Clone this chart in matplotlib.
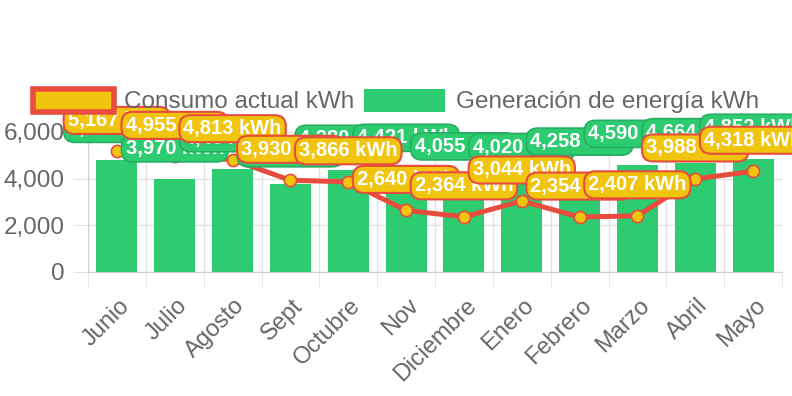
import matplotlib
matplotlib.use('Agg')
import matplotlib.pyplot as plt
import matplotlib.transforms as mtransforms
from matplotlib.patches import Patch
from matplotlib.ticker import FuncFormatter, FixedLocator

plt.rcParams['font.family'] = ['Liberation Sans', 'DejaVu Sans']

months = ['Junio', 'Julio', 'Agosto', 'Sept', 'Octubre', 'Nov', 'Diciembre',
          'Enero', 'Febrero', 'Marzo', 'Abril', 'Mayo']
consumo = [5167, 4955, 4813, 3930, 3866, 2640, 2364, 3044, 2354, 2407, 3988, 4318]
generacion = [4805, 3970, 4404, 3760, 4380, 4421, 4055, 4020, 4258, 4590, 4664, 4852]
y_ticks = [0, 2000, 4000, 6000]

RED = '#e74c3c'
YELLOW = '#f1c40f'
GREEN = '#2ecc71'
DGREEN = '#27ae60'
GRID = '#e3e3e3'
TXT = '#666666'

fig = plt.figure(figsize=(7.92, 3.96), dpi=100)
ax = fig.add_axes([88 / 792, 1 - 272 / 396, 694 / 792, 140 / 396])

x = list(range(len(months)))
ax.bar(x, generacion, width=0.71, color=GREEN, zorder=2)
ax.plot(x, consumo, color=RED, lw=3.6, marker='o', ms=8.8,
        mfc=YELLOW, mec=RED, mew=1.2, zorder=3, solid_capstyle='round')

ax.set_xlim(-0.5, len(months) - 0.5)
ax.set_ylim(0, 6000)
ax.set_yticks(y_ticks)
ax.yaxis.set_major_formatter(FuncFormatter(lambda v, p: f'{int(v):,}'))
ax.set_xticks(x)
ax.set_xticklabels(months)
ax.xaxis.set_minor_locator(FixedLocator([i - 0.5 for i in range(len(months) + 1)]))

ax.grid(axis='y', color=GRID, lw=1, zorder=0)
ax.grid(axis='x', which='minor', color=GRID, lw=1, zorder=0)
ax.tick_params(axis='y', length=11, color=GRID, labelsize=17.5, labelcolor=TXT, pad=6)
ax.tick_params(axis='x', which='major', length=0, labelsize=17, labelcolor=TXT, pad=22)
ax.tick_params(axis='x', which='minor', length=11, color=GRID)
for s in ['top', 'right']:
    ax.spines[s].set_visible(False)
for s in ['left', 'bottom']:
    ax.spines[s].set_color('#d0d0d0')

off = mtransforms.ScaledTranslation(9 / 100, 0, fig.dpi_scale_trans)
for lab in ax.get_xticklabels():
    lab.set_rotation(45)
    lab.set_ha('right')
    lab.set_va('center')
    lab.set_rotation_mode('anchor')
    lab.set_transform(lab.get_transform() + off)

# data labels: green first, yellow on top
for i, v in enumerate(generacion):
    ax.annotate(f'{v:,} kWh', (i, v), xytext=(0, 31), textcoords='offset pixels',
                ha='center', va='center', color='white', fontsize=14.5,
                fontweight='bold', zorder=5, annotation_clip=False,
                bbox=dict(boxstyle='round,pad=0.2,rounding_size=0.55',
                          fc=GREEN, ec=DGREEN, lw=1.2))
for i, v in enumerate(consumo):
    ax.annotate(f'{v:,} kWh', (i, v), xytext=(0, 31), textcoords='offset pixels',
                ha='center', va='center', color='white', fontsize=14.5,
                fontweight='bold', zorder=6, annotation_clip=False,
                bbox=dict(boxstyle='round,pad=0.2,rounding_size=0.55',
                          fc=YELLOW, ec=RED, lw=1.5))

handles = [Patch(fc=YELLOW, ec=RED, lw=4, label='Consumo actual kWh'),
           Patch(fc=GREEN, ec=GREEN, lw=0, label='Generación de energía kWh')]
fig.legend(handles=handles, loc='center', bbox_to_anchor=(0.5, 1 - 101 / 396),
           ncol=2, frameon=False, fontsize=17.5, labelcolor=TXT,
           handlelength=3.3, handleheight=1.1, handletextpad=0.45,
           columnspacing=0.4)

fig.savefig('out.png', dpi=100)
